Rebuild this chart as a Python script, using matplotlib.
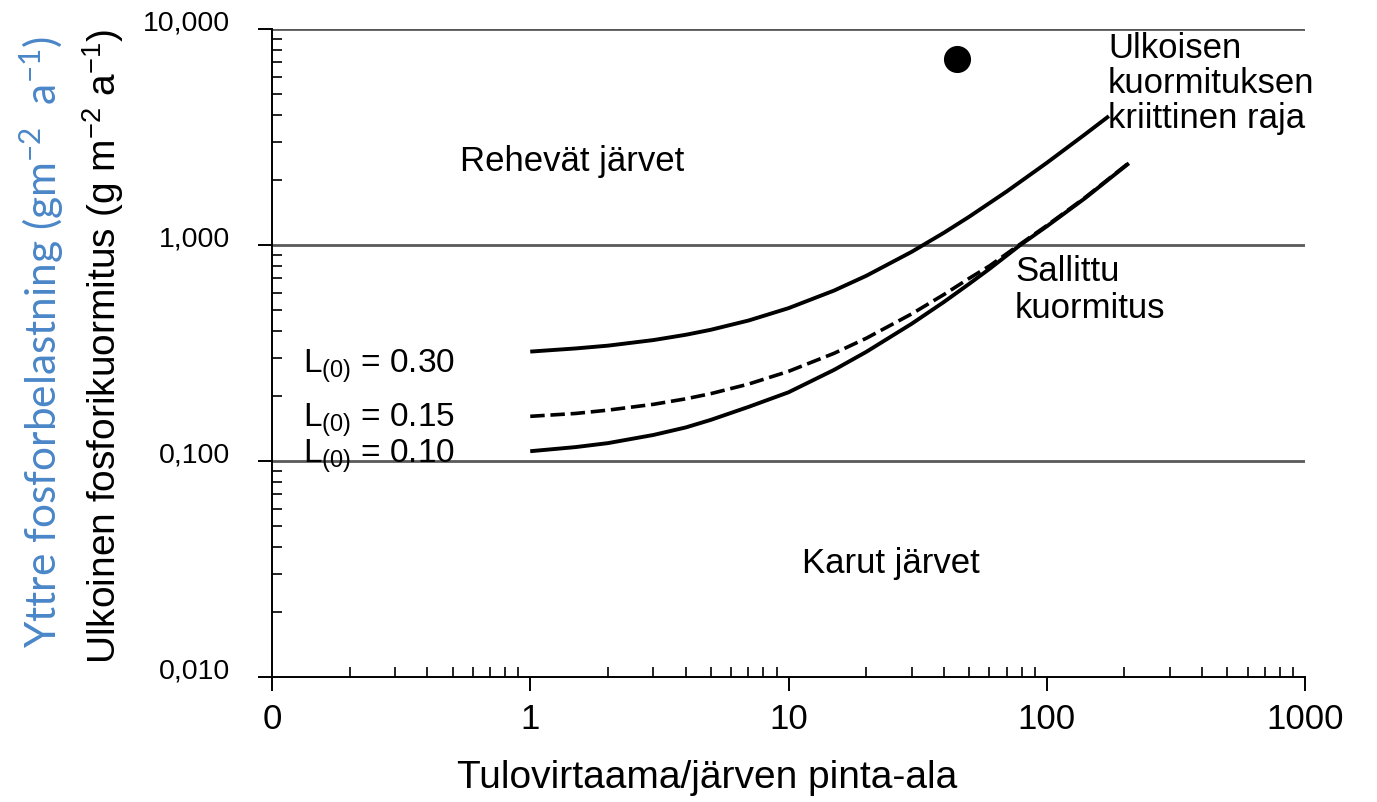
import matplotlib
matplotlib.use("Agg")
import matplotlib.pyplot as plt
import matplotlib.transforms as mtransforms
from matplotlib.ticker import FixedLocator, FixedFormatter, LogLocator, NullFormatter

plt.rcParams["font.family"] = ["Liberation Sans", "DejaVu Sans"]
plt.rcParams["mathtext.default"] = "regular"

# values
# critical limit, L(0) = 0.30
q_030 = [1, 1.5, 2, 3, 4, 5, 7, 10, 15, 20, 30, 40, 50, 70, 100, 140, 174]
L_030 = [0.321, 0.332, 0.342, 0.363, 0.384, 0.405, 0.447, 0.51, 0.615,
         0.72, 0.93, 1.14, 1.35, 1.77, 2.40, 3.24, 3.95]
# L(0) = 0.15 (dashed)
q_015 = [1, 1.5, 2, 3, 4, 5, 7, 10, 15, 20, 30, 40, 50, 60, 79, 100, 140, 208]
L_015 = [0.161, 0.166, 0.172, 0.183, 0.194, 0.205, 0.227, 0.26, 0.315,
         0.37, 0.48, 0.59, 0.70, 0.80, 1.01, 1.23, 1.65, 2.40]
# permissible load, L(0) = 0.10
q_010 = [1, 1.5, 2, 3, 4, 5, 7, 10, 15, 20, 30, 40, 50, 60, 79, 100, 140, 208]
L_010 = [0.111, 0.116, 0.121, 0.132, 0.143, 0.155, 0.178, 0.208, 0.264,
         0.32, 0.432, 0.545, 0.66, 0.775, 1.0, 1.22, 1.64, 2.39]
# single lake
lake_q = [45]
lake_L = [7.3]

x_ticks = [0.1, 1, 10, 100, 1000]
x_labels = ["0", "1", "10", "100", "1000"]
y_ticks = [0.01, 0.1, 1, 10]
y_labels = ["0,010", "0,100", "1,000", "10,000"]

W, H = 1377, 802
fig = plt.figure(figsize=(W / 100, H / 100), dpi=100)
ax = fig.add_axes([272 / W, 1 - 677 / H, (1305 - 272) / W, (677 - 29) / H])

ax.set_xscale("log")
ax.set_yscale("log")
ax.set_xlim(0.1, 1000)
ax.set_ylim(0.01, 10)

for y in y_ticks[1:]:
    ax.axhline(y, color="#595959", lw=2.0, zorder=1)

ax.plot(q_030, L_030, color="black", lw=2.8, zorder=3, solid_capstyle="butt")
ax.plot(q_015, L_015, color="black", lw=2.6, zorder=3, dashes=(4.0, 1.6))
ax.plot(q_010, L_010, color="black", lw=2.8, zorder=3, solid_capstyle="butt")
ax.plot(lake_q, lake_L, "o", color="black", ms=18.5, zorder=4)

ax.spines["top"].set_visible(False)
ax.spines["right"].set_visible(False)
for s in ("left", "bottom"):
    ax.spines[s].set_linewidth(1.4)
    ax.spines[s].set_zorder(2)

ax.xaxis.set_major_locator(FixedLocator(x_ticks))
ax.xaxis.set_major_formatter(FixedFormatter(x_labels))
ax.yaxis.set_major_locator(FixedLocator(y_ticks))
ax.yaxis.set_major_formatter(FixedFormatter(y_labels))
ax.xaxis.set_minor_locator(LogLocator(base=10, subs=range(2, 10), numticks=20))
ax.yaxis.set_minor_locator(LogLocator(base=10, subs=range(2, 10), numticks=20))
ax.xaxis.set_minor_formatter(NullFormatter())
ax.yaxis.set_minor_formatter(NullFormatter())

ax.tick_params(axis="x", which="major", direction="out", length=10, width=1.4,
               labelsize=25, pad=9)
ax.tick_params(axis="y", which="major", direction="out", length=10, width=1.4,
               labelsize=20.5, pad=20)
ax.tick_params(which="minor", direction="in", length=7, width=1.2)

# y tick labels sit a little above their gridlines
shift = mtransforms.ScaledTranslation(0, 6 / 72, fig.dpi_scale_trans)
for lab in ax.get_yticklabels():
    lab.set_transform(lab.get_transform() + shift)

fig.text(460 / W, 1 - 162 / H, "Rehevät järvet", fontsize=25,
         va="center", ha="left")
fig.text(802 / W, 1 - 563 / H, "Karut järvet", fontsize=25,
         va="center", ha="left")

fig.text(303 / W, 1 - 373 / H, r"L$_{(0)}$ = 0.30", fontsize=24, va="baseline")
fig.text(303 / W, 1 - 427 / H, r"L$_{(0)}$ = 0.15", fontsize=24, va="baseline")
fig.text(303 / W, 1 - 463 / H, r"L$_{(0)}$ = 0.10", fontsize=24, va="baseline")

fig.text(1108 / W, 1 - 32 / H, "Ulkoisen\nkuormituksen\nkriittinen raja",
         fontsize=25, va="top", ha="left", linespacing=1.08)
fig.text(1015 / W, 1 - 255 / H, "Sallittu\nkuormitus", fontsize=25,
         va="top", ha="left", linespacing=1.15)

fig.text(707 / W, 1 - 778 / H, "Tulovirtaama/järven pinta-ala", fontsize=28,
         ha="center", va="center")
fig.text(103 / W, 1 - 347 / H,
         r"Ulkoinen fosforikuormitus (g m$^{-2}$ a$^{-1}$)",
         fontsize=28, rotation=90, ha="center", va="center")
fig.text(42 / W, 1 - 342 / H,
         r"Yttre fosforbelastning (gm$^{-2}$  a$^{-1}$)",
         fontsize=30.5, rotation=90, ha="center", va="center",
         color="#4A86C8", family=["Lato", "DejaVu Sans"])

fig.savefig("out.png", dpi=100)
